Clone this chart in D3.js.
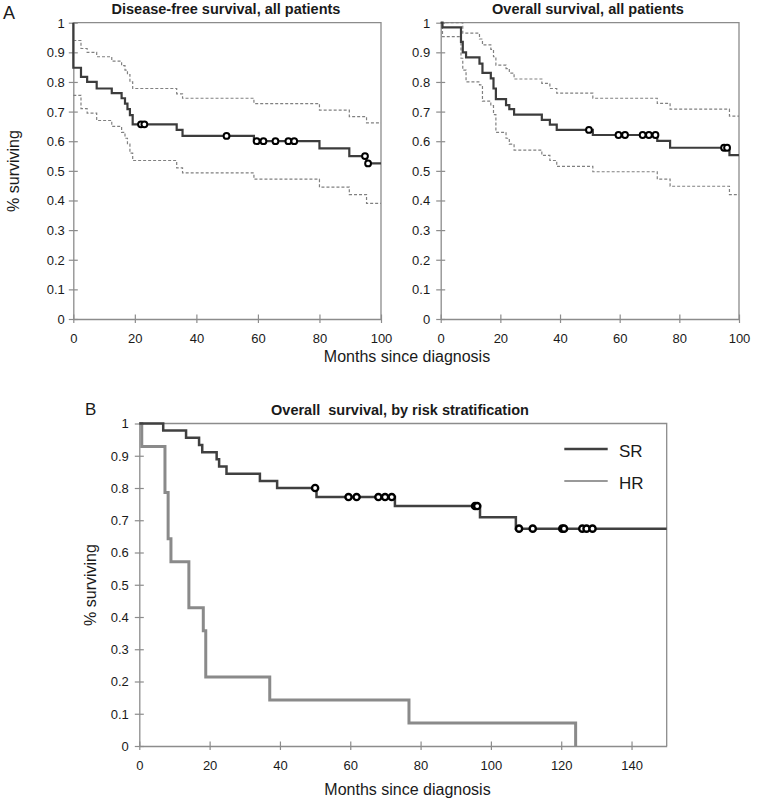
<!DOCTYPE html>
<html>
<head>
<meta charset="utf-8">
<script src="https://cdn.jsdelivr.net/npm/d3@7"></script>
<style>
  html, body { margin: 0; padding: 0; background: #fff; }
  svg { display: block; font-family: "Liberation Sans", Arial, sans-serif; }
</style>
</head>
<body>
<svg id="chart" width="759" height="801"></svg>
<script>
// ---------------- DATA ----------------
// Panel A, left: disease-free survival (step times in months, survival after step)
const dfsTimes = [0, 2.5, 4.5, 7.6, 12.5, 15.7, 16.8, 17.6, 18.4, 19.3, 33.6, 35.5, 58.7, 80.0, 89.7, 95.3];
const dfsSurv  = [0.848, 0.817, 0.800, 0.778, 0.762, 0.745, 0.727, 0.708, 0.688, 0.657, 0.638, 0.618, 0.600, 0.576, 0.550, 0.525];
const dfsUpper = [0.940, 0.913, 0.900, 0.885, 0.870, 0.855, 0.840, 0.825, 0.800, 0.778, 0.760, 0.745, 0.727, 0.705, 0.683, 0.662];
const dfsLower = [0.755, 0.710, 0.695, 0.670, 0.650, 0.630, 0.610, 0.590, 0.560, 0.535, 0.510, 0.493, 0.472, 0.445, 0.420, 0.390];
const dfsCensored = [22.0, 23.1, 49.8, 59.6, 61.8, 65.7, 69.9, 71.8, 94.8, 95.8];

// Panel A, right: overall survival
const osTimes = [0, 0.6, 6.8, 7.4, 8.5, 13.0, 14.0, 16.8, 17.7, 18.5, 21.9, 23.0, 24.6, 33.9, 36.6, 38.9, 51.0, 72.6, 76.9, 96.8];
const osSurv  = [1.0, 0.984, 0.935, 0.900, 0.883, 0.862, 0.831, 0.812, 0.778, 0.742, 0.722, 0.708, 0.690, 0.672, 0.656, 0.638, 0.621, 0.601, 0.578, 0.553];
const osUpper = [1.0, 1.0, 1.0, 0.965, 0.965, 0.945, 0.925, 0.910, 0.885, 0.857, 0.845, 0.830, 0.810, 0.795, 0.778, 0.762, 0.745, 0.728, 0.708, 0.685];
const osLower = [1.0, 0.953, 0.880, 0.840, 0.800, 0.790, 0.735, 0.720, 0.690, 0.630, 0.610, 0.590, 0.570, 0.552, 0.535, 0.515, 0.497, 0.472, 0.448, 0.420];
const osCensored = [49.7, 59.6, 61.8, 67.7, 69.8, 72.0, 95.0, 96.0];

// Panel B: overall survival by risk stratification
const srTimes = [0, 6.8, 13.3, 17.0, 17.9, 22.0, 22.7, 24.8, 34.3, 39.2, 50.4, 72.7, 96.9, 107.1];
const srSurv  = [1.0, 0.978, 0.956, 0.933, 0.911, 0.889, 0.867, 0.844, 0.822, 0.800, 0.772, 0.744, 0.709, 0.674];
const srCensored = [50.0, 59.5, 61.8, 68.0, 69.9, 71.8, 95.5, 96.1, 108.0, 111.9, 120.3, 120.8, 126.0, 127.2, 128.9];
const hrTimes = [0, 0.7, 7.3, 8.2, 9.0, 14.1, 18.2, 18.9, 37.1, 76.7, 124.1];
const hrSurv  = [1.0, 0.929, 0.786, 0.643, 0.571, 0.429, 0.357, 0.214, 0.143, 0.071, 0.0];

const yTicks = [0, 0.1, 0.2, 0.3, 0.4, 0.5, 0.6, 0.7, 0.8, 0.9, 1];
const xTicksA = [0, 20, 40, 60, 80, 100];
const xTicksB = [0, 20, 40, 60, 80, 100, 120, 140];
const legendLabels = ["SR", "HR"];

// ---------------- DRAW ----------------
const svg = d3.select("#chart");
const AXIS = "#8c8c8c", TXT = "#1a1a1a";

function stepPoints(times, vals, end, startVal) {
  const pts = [];
  if (startVal !== undefined) pts.push([times[0], startVal]);
  times.forEach((t, i) => pts.push([t, vals[i]]));
  pts.push([end, vals[vals.length - 1]]);
  return pts;
}
function survAt(times, vals, t) {
  let v = vals[0];
  for (let i = 0; i < times.length; i++) if (times[i] <= t) v = vals[i];
  return v;
}
const fmt = d => (d === 0 ? "0" : d === 1 ? "1" : d.toFixed(1));

function frame(x, y, xTicks, yPad) {
  const [x0, x1] = x.range(), [y0, y1] = y.range();
  const g = svg.append("g");
  // frame (top and right)
  g.append("path").attr("d", `M${x0},${y1}H${x1}V${y0}`)
    .attr("fill", "none").attr("stroke", AXIS).attr("stroke-width", 1.3);
  // y axis
  const ya = g.append("g").attr("transform", `translate(${x0},0)`)
    .call(d3.axisLeft(y).tickValues(yTicks).tickFormat(fmt).tickSizeOuter(0));
  ya.select(".domain").attr("stroke", AXIS).attr("stroke-width", 1.3);
  ya.selectAll(".tick line").attr("x1", -4.5).attr("x2", 4.5).attr("stroke", AXIS).attr("stroke-width", 1.2);
  ya.selectAll(".tick text").attr("x", -yPad).attr("dy", "0.34em")
    .attr("fill", TXT).style("font-size", "13px").style("font-family", "Liberation Sans, Arial, sans-serif");
  // x axis
  const xa = g.append("g").attr("transform", `translate(0,${y0})`)
    .call(d3.axisBottom(x).tickValues(xTicks).tickSizeOuter(0));
  xa.select(".domain").attr("stroke", AXIS).attr("stroke-width", 1.3);
  xa.selectAll(".tick line").attr("y1", -4.5).attr("y2", 4).attr("stroke", AXIS).attr("stroke-width", 1.2);
  xa.selectAll(".tick text").attr("y", 15).attr("dy", "0.71em")
    .attr("fill", TXT).style("font-size", "13px").style("font-family", "Liberation Sans, Arial, sans-serif");
}

function drawKM(x, y, times, vals, up, lo, cens, startVal) {
  const end = x.domain()[1];
  const line = d3.line().x(d => x(d[0])).y(d => y(d[1])).curve(d3.curveStepAfter);
  const g = svg.append("g");
  [up, lo].forEach(ci => {
    g.append("path").attr("d", line(stepPoints(times, ci, end)))
      .attr("fill", "none").attr("stroke", "#808080").attr("stroke-width", 1.2)
      .attr("stroke-dasharray", "3,2");
  });
  g.append("path").attr("d", line(stepPoints(times, vals, end, startVal)))
    .attr("fill", "none").attr("stroke", "#3c3c3c").attr("stroke-width", 2.2);
  g.selectAll("circle").data(cens).join("circle")
    .attr("cx", d => x(d)).attr("cy", d => y(survAt(times, vals, d)))
    .attr("r", 2.9).attr("fill", "#fff").attr("stroke", "#000").attr("stroke-width", 2);
}

// ---- Panel A left
const xA1 = d3.scaleLinear().domain([0, 100]).range([73.3, 381]);
const yA = d3.scaleLinear().domain([0, 1]).range([319, 22.7]);
frame(xA1, yA, xTicksA, 8.5);
drawKM(xA1, yA, dfsTimes, dfsSurv, dfsUpper, dfsLower, dfsCensored, 1.0);

// ---- Panel A right
const xA2 = d3.scaleLinear().domain([0, 100]).range([440.7, 739]);
frame(xA2, yA, xTicksA, 10.5);
drawKM(xA2, yA, osTimes, osSurv, osUpper, osLower, osCensored);

// ---- Panel B
const xB = d3.scaleLinear().domain([0, 150]).range([139.3, 666.7]);
const yB = d3.scaleLinear().domain([0, 1]).range([746, 423.5]);
frame(xB, yB, xTicksB, 10.5);
const lineB = d3.line().x(d => xB(d[0])).y(d => yB(d[1])).curve(d3.curveStepAfter);
svg.append("path").attr("d", lineB(stepPoints(hrTimes, hrSurv, hrTimes[hrTimes.length - 1])))
  .attr("fill", "none").attr("stroke", "#8a8a8a").attr("stroke-width", 3);
svg.append("path").attr("d", lineB(stepPoints(srTimes, srSurv, 150)))
  .attr("fill", "none").attr("stroke", "#404040").attr("stroke-width", 2.5);
svg.append("g").selectAll("circle").data(srCensored).join("circle")
  .attr("cx", d => xB(d)).attr("cy", d => yB(survAt(srTimes, srSurv, d)))
  .attr("r", 3.1).attr("fill", "#fff").attr("stroke", "#000").attr("stroke-width", 2.4);

// legend
const legColors = ["#404040", "#999999"], legWidths = [2.5, 2];
const leg = svg.append("g");
legendLabels.forEach((lab, i) => {
  const ly = 449 + i * 32;
  leg.append("line").attr("x1", 564.3).attr("x2", 607.7).attr("y1", ly).attr("y2", ly)
    .attr("stroke", legColors[i]).attr("stroke-width", legWidths[i]);
  leg.append("text").attr("x", 619).attr("y", ly + 7.5).text(lab)
    .attr("fill", TXT).style("font-size", "17px");
});

// ---- texts
function txt(x, y, s, size, opts = {}) {
  const t = svg.append("text").attr("x", x).attr("y", y).text(s)
    .attr("fill", TXT).style("font-size", size + "px")
    .attr("text-anchor", opts.anchor || "start")
    .style("font-weight", opts.bold ? "bold" : "normal")
    .style("white-space", "pre");
  if (opts.rotate) t.attr("transform", `rotate(-90,${x},${y})`);
  return t;
}
txt(3, 18.5, "A", 18);
txt(85, 415, "B", 17);
txt(226, 13.5, "Disease-free survival, all patients", 14.5, { anchor: "middle", bold: true });
txt(588, 13.5, "Overall survival, all patients", 14.5, { anchor: "middle", bold: true });
txt(400, 415, "Overall  survival, by risk stratification", 14.5, { anchor: "middle", bold: true });
txt(18.5, 171, "% surviving", 16, { anchor: "middle", rotate: true });
txt(96, 585, "% surviving", 16, { anchor: "middle", rotate: true });
txt(407, 362, "Months since diagnosis", 16, { anchor: "middle" });
txt(407.5, 795, "Months since diagnosis", 16, { anchor: "middle" });
</script>
</body>
</html>
